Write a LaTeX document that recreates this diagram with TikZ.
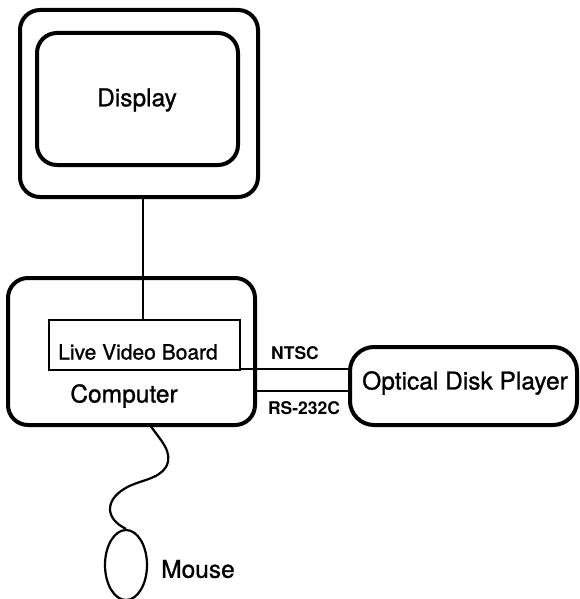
\documentclass[tikz,border=0pt]{standalone}
\usepackage{fontspec}
\setmainfont{TeX Gyre Heros}
\newfontfamily\heavyfont[FakeBold=1.0]{TeX Gyre Heros}
\usetikzlibrary{shapes.geometric}
\begin{document}
\begin{tikzpicture}[x=1pt,y=-1pt,
  thick box/.style={draw,line width=4pt,rounded corners=20pt},
  thin box/.style={draw,line width=2.2pt},
  wire/.style={line width=2.2pt},
  lbl/.style={font=\heavyfont\fontsize{24.5}{28}\selectfont},
  small/.style={font=\bfseries\fontsize{17.5}{20}\selectfont}]
\useasboundingbox (0,0) rectangle (579,599);
% display
\draw[thick box] (20,10) rectangle (258,197);
\draw[thick box] (37,33) rectangle (238,165);
\node[lbl] (disp) at (137,100) {Display};
\coordinate (dispbot) at (143,197);
% computer
\draw[thick box] (8,278) rectangle (255,425);
\draw[thin box] (49,320) rectangle (240,370);
\node[font=\heavyfont\fontsize{21}{24}\selectfont] (lvb) at (138,352) {Live Video Board};
\node[lbl] (comp) at (124,396) {Computer};
\coordinate (lvbtop) at (143,320);
\coordinate (lvbr) at (240,369);
\coordinate (compr) at (255,391);
% optical disk
\draw[thick box,rounded corners=24pt] (350,347) rectangle (577,425);
\node[lbl] (odp) at (465,383) {Optical Disk Player};
\coordinate (odpa) at (350,369);
\coordinate (odpb) at (350,391);
% connectors
\draw[wire] (dispbot) -- (lvbtop);
\draw[wire] (lvbr) -- (odpa);
\draw[wire] (compr) -- (odpb);
\node[small] (ntsc) at (295,353) {NTSC};
\node[small] (rs) at (304,408) {RS-232C};
% mouse
\coordinate (cab) at (150,425);
\node[draw,line width=2.2pt,ellipse,minimum width=42pt,minimum height=70pt,inner sep=0pt] (mouse) at (126,565) {};
\draw[wire] (cab) .. controls (160,440) and (174,452) .. (166,467)
  .. controls (158,480) and (138,480) .. (124,489)
  .. controls (106,500) and (104,518) .. (mouse.north);
\node[lbl] (mlbl) at (198,569) {Mouse};
\end{tikzpicture}
\end{document}
